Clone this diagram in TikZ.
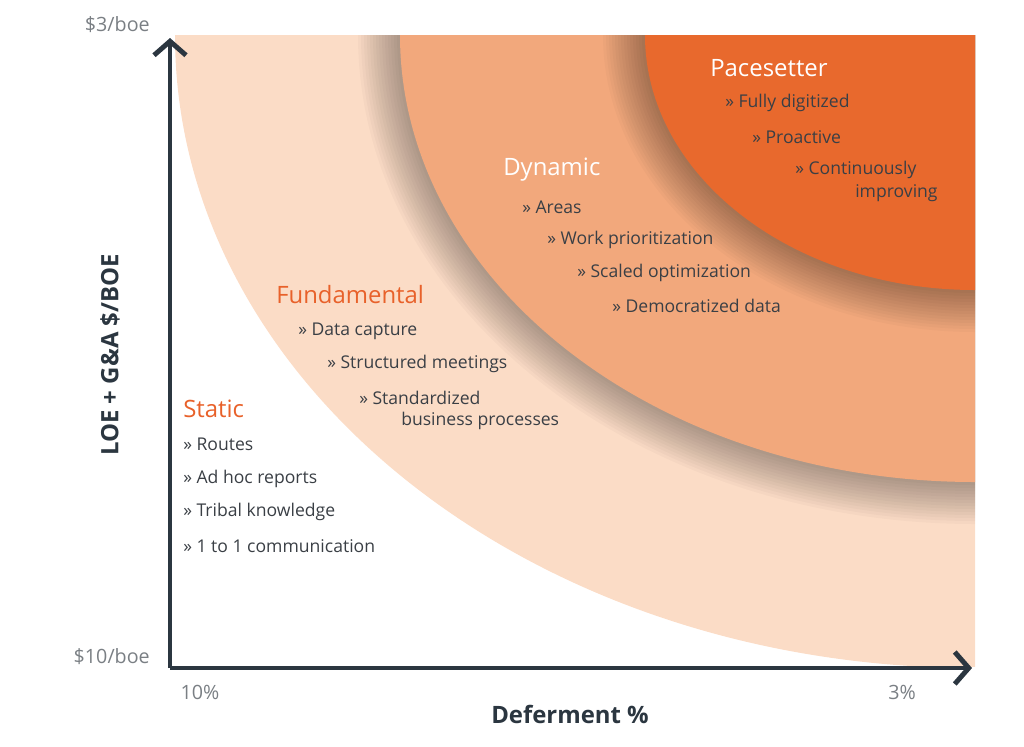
\documentclass[tikz,border=0pt]{standalone}
\usepackage{fontspec}
\setmainfont{Open Sans}
\usetikzlibrary{arrows.meta, positioning}
\definecolor{axisgrey}{HTML}{2B3640}
\definecolor{textgrey}{HTML}{3A3F45}
\definecolor{ticktext}{HTML}{7A7F84}
\definecolor{lightband}{HTML}{FBDCC6}
\definecolor{midband}{HTML}{F2A87C}
\definecolor{darkband}{HTML}{E8692D}
\definecolor{titleorange}{HTML}{E8612A}
\tikzset{
  item/.style={anchor=west, inner sep=0pt, text=textgrey, font=\fontsize{12.5}{14}\selectfont},
  level/.style={anchor=west, inner sep=0pt, font=\fontsize{17}{19}\selectfont},
  tick/.style={inner sep=0pt, text=ticktext, font=\fontsize{14}{16}\selectfont},
}
\begin{document}
\begin{tikzpicture}[x=0.025cm, y=-0.025cm]
        \useasboundingbox (0,0) rectangle (1024,746);
        % Draw the bands
        \begin{scope}
          \clip (172,35) rectangle (975,666);
          \fill [lightband] (975,35) ellipse [x radius=800, y radius=633];
          \foreach \r in {1,...,14}
            \fill [black, opacity=0.025] (975,35) ellipse [x radius=575+3*\r, y radius=447+3*\r];
          \fill [midband] (975,35) ellipse [x radius=575, y radius=447];
          \foreach \r in {1,...,14}
            \fill [black, opacity=0.025] (975,35) ellipse [x radius=330+3*\r, y radius=255+3*\r];
          \fill [darkband] (975,35) ellipse [x radius=330, y radius=255];
        \end{scope}

        % Draw the axes
        \coordinate (origin) at (170,668);
        \coordinate (ytop)   at (170,38);
        \coordinate (xend)   at (972,668);
        \draw [axisgrey, line width=3.5pt, -{Straight Barb[length=3.5mm, width=8mm]}] (origin) -- (ytop);
        \draw [axisgrey, line width=3.5pt, -{Straight Barb[length=3.5mm, width=8mm]}] (origin) -- (xend);

        % Axis labels
        \node (ymax)  [tick, anchor=east] at (150,25) {\$3/boe};
        \node (ymin)  [tick, anchor=east] at (150,657) {\$10/boe};
        \node (xmin)  [tick] at (200,692) {10\%};
        \node (xmax)  [tick] at (902,692) {3\%};
        \node (xname) [inner sep=0pt, text=axisgrey, font=\bfseries\fontsize{17}{19}\selectfont] at (570,714) {Deferment \%};
        \node (yname) [inner sep=0pt, text=axisgrey, rotate=90, font=\bfseries\fontsize{17}{19}\selectfont] at (110,355) {LOE + G\&A \$/BOE};

        % Pacesetter
        \node (pace)  [level, text=white] at (710,68) {Pacesetter};
        \node (pace1) [item] at (725,103) {» Fully digitized};
        \node (pace2) [item] at (752,137) {» Proactive};
        \node (pace3) [item] at (795,170) {» Continuously};
        \node (pace4) [item] at (855,193) {improving};

        % Dynamic
        \node (dyn)  [level, text=white] at (503,170) {Dynamic};
        \node (dyn1) [item] at (522,207) {» Areas};
        \node (dyn2) [item] at (547,240) {» Work prioritization};
        \node (dyn3) [item] at (577,273) {» Scaled optimization};
        \node (dyn4) [item] at (612,306) {» Democratized data};

        % Fundamental
        \node (fund)  [level, text=titleorange] at (276,295) {Fundamental};
        \node (fund1) [item] at (298,331) {» Data capture};
        \node (fund2) [item] at (327,364) {» Structured meetings};
        \node (fund3) [item] at (359,398) {» Standardized};
        \node (fund4) [item] at (401,421) {business processes};

        % Static
        \node (stat)  [level, text=titleorange] at (183,409) {Static};
        \node (stat1) [item] at (183,444) {» Routes};
        \node (stat2) [item] at (183,479) {» Ad hoc reports};
        \node (stat3) [item] at (183,512) {» Tribal knowledge};
        \node (stat4) [item] at (183,546) {» 1 to 1 communication};
    \end{tikzpicture}
\end{document}
